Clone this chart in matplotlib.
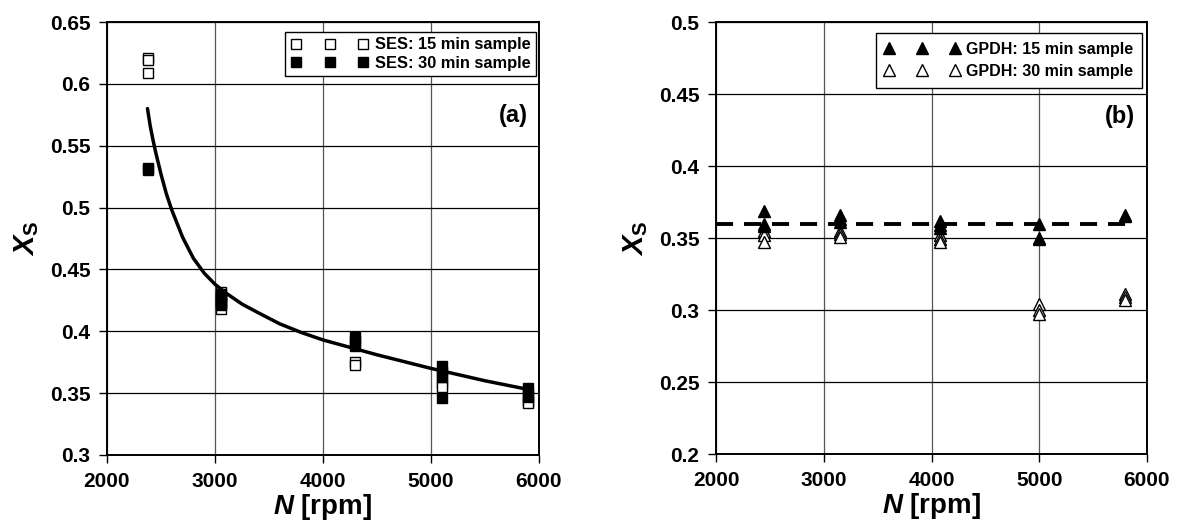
import matplotlib
matplotlib.use("Agg")
import matplotlib.pyplot as plt

plt.rcParams['font.family'] = ['Liberation Sans', 'DejaVu Sans']
plt.rcParams['font.weight'] = 'bold'
plt.rcParams['mathtext.fontset'] = 'custom'
plt.rcParams['mathtext.it'] = 'Liberation Sans:italic:bold'
plt.rcParams['mathtext.rm'] = 'Liberation Sans:bold'
plt.rcParams['mathtext.bf'] = 'Liberation Sans:bold'

# ---------------- data: panel (a) SES ----------------
ses15_n = [2375, 2375, 2375, 3060, 3060, 3060, 3060, 4300, 4300, 5100, 5100, 5900, 5900]
ses15_x = [0.621, 0.619, 0.609, 0.432, 0.428, 0.423, 0.418, 0.375, 0.373, 0.358, 0.355, 0.344, 0.342]
ses30_n = [2375, 2375, 3060, 3060, 3060, 3060, 4300, 4300, 4300, 5100, 5100, 5100, 5100, 5900, 5900, 5900]
ses30_x = [0.532, 0.530, 0.430, 0.427, 0.424, 0.421, 0.395, 0.392, 0.388, 0.372, 0.367, 0.363, 0.346, 0.354, 0.350, 0.347]
fit_n = [2375, 2400, 2425, 2450, 2500, 2550, 2600, 2700, 2800, 2900, 3000, 3100, 3250,
         3400, 3600, 3800, 4000, 4250, 4500, 4750, 5000, 5250, 5500, 5700, 5900]
fit_x = [0.580, 0.566, 0.555, 0.545, 0.527, 0.511, 0.498, 0.476, 0.459, 0.447, 0.438, 0.431, 0.422,
         0.415, 0.406, 0.399, 0.393, 0.387, 0.381, 0.3755, 0.370, 0.365, 0.360, 0.3565, 0.353]

# ---------------- data: panel (b) GPDH ----------------
gpdh15_n = [2450, 2450, 2450, 3150, 3150, 3150, 4080, 4080, 4080, 5000, 5000, 5000, 5800, 5800]
gpdh15_x = [0.369, 0.360, 0.358, 0.366, 0.363, 0.361, 0.362, 0.359, 0.357, 0.360, 0.350, 0.349, 0.366, 0.365]
gpdh30_n = [2450, 2450, 2450, 3150, 3150, 3150, 4080, 4080, 4080, 5000, 5000, 5000, 5800, 5800, 5800]
gpdh30_x = [0.355, 0.352, 0.347, 0.355, 0.353, 0.351, 0.352, 0.349, 0.347, 0.304, 0.300, 0.297, 0.311, 0.309, 0.307]
mean_n = [2000, 5820]
mean_x = [0.36, 0.36]

xticks = [2000, 3000, 4000, 5000, 6000]
yticks_a = [0.3, 0.35, 0.4, 0.45, 0.5, 0.55, 0.6, 0.65]
ylabels_a = ['0.3', '0.35', '0.4', '0.45', '0.5', '0.55', '0.6', '0.65']
yticks_b = [0.2, 0.25, 0.3, 0.35, 0.4, 0.45, 0.5]
ylabels_b = ['0.2', '0.25', '0.3', '0.35', '0.4', '0.45', '0.5']

fig = plt.figure(figsize=(11.8, 5.25), dpi=100)
axa = fig.add_axes([107/1180, 70/525, 432/1180, 433/525])
axb = fig.add_axes([716/1180, 71/525, 431/1180, 432/525])


def style(ax, yt, yl, ylim):
    ax.set_xlim(2000, 6000)
    ax.set_ylim(*ylim)
    ax.set_xticks(xticks)
    ax.set_xticklabels([str(t) for t in xticks])
    ax.set_yticks(yt)
    ax.set_yticklabels(yl)
    ax.tick_params(direction='out', length=6, width=1, labelsize=15, pad=6, color='black')
    ax.grid(True, axis='y', color='black', linewidth=0.9)
    ax.grid(True, axis='x', color='#555555', linewidth=0.9)
    ax.set_axisbelow(True)
    for s in ax.spines.values():
        s.set_linewidth(1.4)
        s.set_color('black')
    ax.set_xlabel(r'$N$ [rpm]', fontsize=20, fontweight='bold', labelpad=1)
    ax.set_ylabel(r'$X_\mathrm{S}$', fontsize=21, fontweight='bold', labelpad=6)
    for lab in ax.get_xticklabels() + ax.get_yticklabels():
        lab.set_fontweight('bold')


# panel (a)
axa.plot(ses15_n, ses15_x, linestyle='none', marker='s', markersize=7.5,
         markerfacecolor='white', markeredgecolor='black', markeredgewidth=1.0,
         label='SES: 15 min sample', zorder=3)
axa.plot(ses30_n, ses30_x, linestyle='none', marker='s', markersize=7.5,
         markerfacecolor='black', markeredgecolor='black', markeredgewidth=1.0,
         label='SES: 30 min sample', zorder=4)
axa.plot(fit_n, fit_x, color='black', linewidth=2.5, zorder=5,
         solid_joinstyle='round', solid_capstyle='round')
style(axa, yticks_a, ylabels_a, (0.3, 0.65))
axa.legend(loc='upper right', bbox_to_anchor=(0.993, 0.978), borderaxespad=0,
           numpoints=3, handlelength=4.7, handletextpad=0.4, labelspacing=0.2,
           borderpad=0.35, frameon=True, fancybox=False,
           edgecolor='black', framealpha=1, prop={'weight': 'bold', 'size': 11.8})
axa.legend_.get_frame().set_linewidth(1.0)
axa.text(0.975, 0.783, '(a)', transform=axa.transAxes, ha='right', va='center',
         fontsize=17, fontweight='bold')

# panel (b)
axb.plot(gpdh30_n, gpdh30_x, linestyle='none', marker='^', markersize=8,
         markerfacecolor='white', markeredgecolor='black', markeredgewidth=1.0,
         label='GPDH: 30 min sample', zorder=3)
axb.plot(gpdh15_n, gpdh15_x, linestyle='none', marker='^', markersize=8,
         markerfacecolor='black', markeredgecolor='black', markeredgewidth=1.0,
         label='GPDH: 15 min sample', zorder=4)
axb.plot(mean_n, mean_x, color='black', linewidth=2.8, dashes=(4.4, 2.8), zorder=5)
style(axb, yticks_b, ylabels_b, (0.2, 0.5))
h, l = axb.get_legend_handles_labels()
axb.legend([h[1], h[0]], [l[1], l[0]], loc='upper right', bbox_to_anchor=(0.988, 0.975),
           borderaxespad=0, numpoints=3, handlelength=4.7, handletextpad=0.4,
           labelspacing=0.45, borderpad=0.55, frameon=True, fancybox=False,
           edgecolor='black', framealpha=1, prop={'weight': 'bold', 'size': 11.5})
axb.legend_.get_frame().set_linewidth(1.0)
axb.text(0.972, 0.782, '(b)', transform=axb.transAxes, ha='right', va='center',
         fontsize=17, fontweight='bold')

fig.savefig('out.png', dpi=100, facecolor='white')
